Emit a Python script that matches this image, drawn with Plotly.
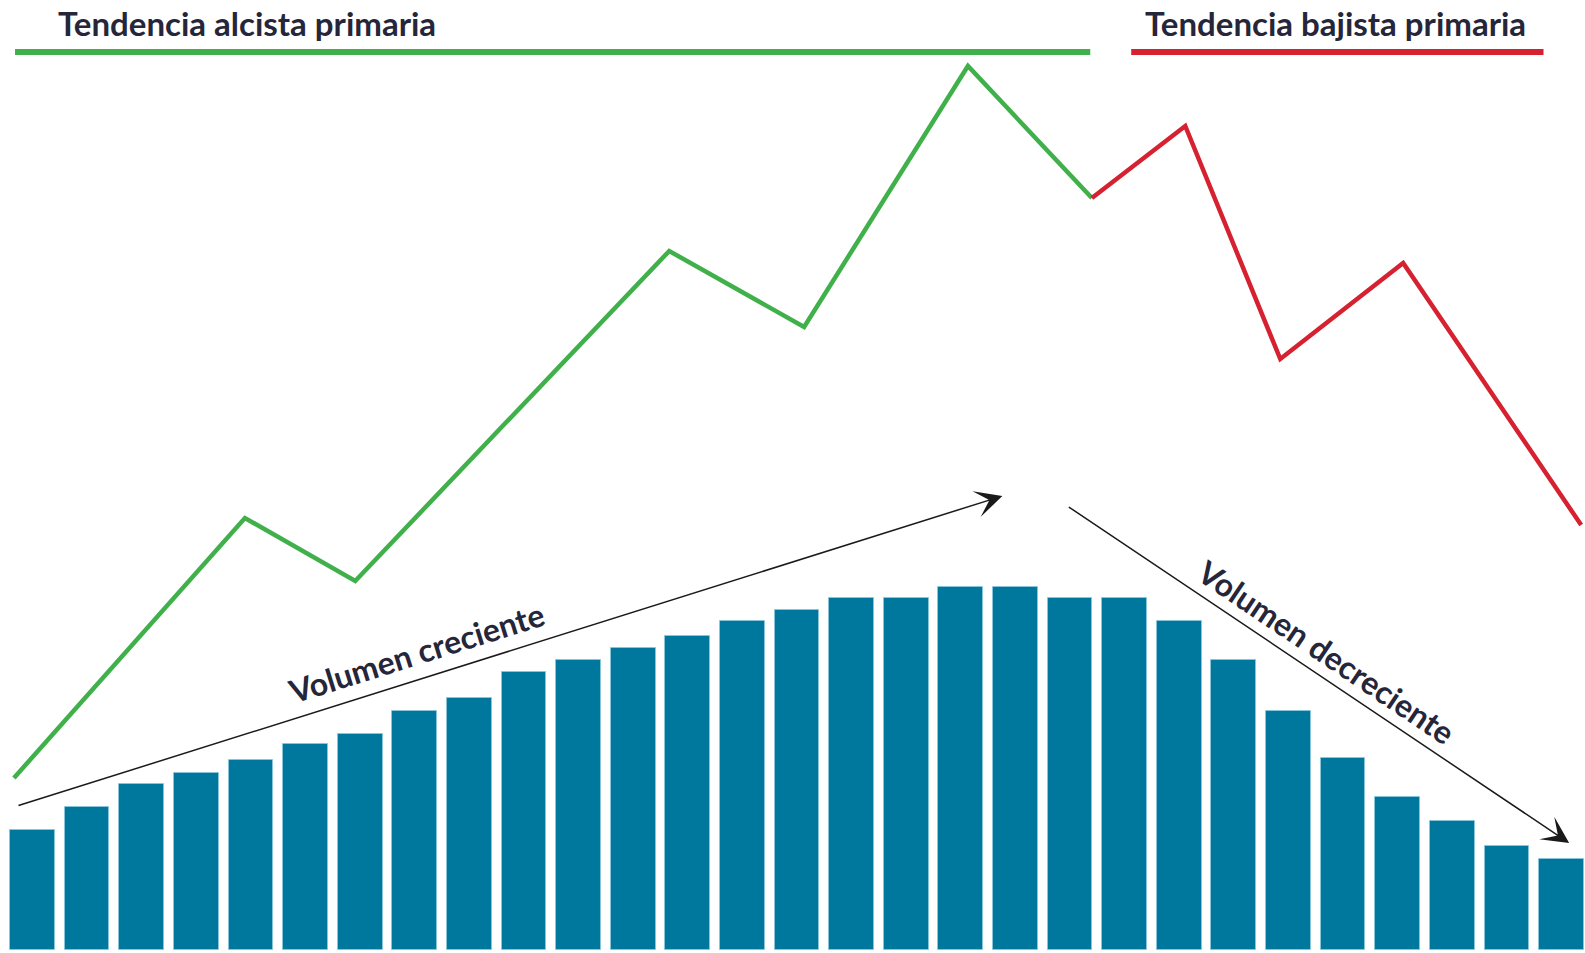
import plotly.graph_objects as go

# ---- data ----
bar_index = list(range(29))
volume = [120, 143, 166, 177, 190, 206, 216, 239, 252, 278, 290, 302, 314, 329, 340,
          352, 352, 363, 363, 352, 352, 329, 290, 239, 192, 153, 129, 104, 91]

# price path (time in bar-index units, price in arbitrary units)
up_t = [-0.34, 3.89, 5.91, 11.66, 14.13, 17.13, 19.40]
up_p = [172, 432, 369, 699, 623, 884, 752]
down_t = [19.40, 21.11, 22.85, 25.10, 28.36]
down_p = [752, 824, 591, 687, 425]

title_up = "Tendencia alcista primaria"
title_down = "Tendencia bajista primaria"
label_up = "Volumen creciente"
label_down = "Volumen decreciente"

BAR = "rgb(0,120,158)"
GREEN = "rgb(64,176,74)"
RED = "rgb(213,33,48)"
TXT = "#26263a"
FONT = "Lato"

fig = go.Figure()
fig.add_trace(go.Bar(x=bar_index, y=volume, marker=dict(color=BAR, line=dict(color="rgba(140,200,220,0.8)", width=1)),
                     width=0.82, hoverinfo="skip"))
fig.add_trace(go.Scatter(x=up_t, y=up_p, mode="lines", line=dict(color=GREEN, width=4.5), hoverinfo="skip"))
fig.add_trace(go.Scatter(x=down_t, y=down_p, mode="lines", line=dict(color=RED, width=4.5), hoverinfo="skip"))

# trend header bars
fig.add_shape(type="line", x0=-0.32, x1=19.37, y0=898, y1=898, line=dict(color=GREEN, width=6))
fig.add_shape(type="line", x0=20.12, x1=27.67, y0=898, y1=898, line=dict(color=RED, width=6))

ann = []
ann.append(dict(x=3.93, y=927, text=title_up, showarrow=False, xanchor="center", yanchor="middle",
                font=dict(family=FONT, size=33, color=TXT, weight="bold")))
ann.append(dict(x=23.86, y=927, text=title_down, showarrow=False, xanchor="center", yanchor="middle",
                font=dict(family=FONT, size=33, color=TXT, weight="bold")))
# arrows
ann.append(dict(x=17.76, y=454, ax=-0.284, ay=144, axref="x", ayref="y", xref="x", yref="y",
                text="", showarrow=True, arrowhead=3, arrowsize=3, arrowwidth=1.5, arrowcolor="#1a1a1a"))
ann.append(dict(x=28.14, y=107, ax=18.95, ay=444, axref="x", ayref="y", xref="x", yref="y",
                text="", showarrow=True, arrowhead=3, arrowsize=3, arrowwidth=1.5, arrowcolor="#1a1a1a"))
ann.append(dict(x=7.02, y=298, text=label_up, showarrow=False, textangle=-17.4,
                font=dict(family=FONT, size=32, color=TXT, weight="bold")))
ann.append(dict(x=23.69, y=299, text=label_down, showarrow=False, textangle=33.9,
                font=dict(family=FONT, size=32, color=TXT, weight="bold")))

fig.update_layout(
    width=1585, height=953,
    margin=dict(l=0, r=0, t=0, b=0),
    paper_bgcolor="white", plot_bgcolor="white",
    showlegend=False, bargap=0,
    annotations=ann,
    xaxis=dict(range=[-0.595, 28.43], visible=False, fixedrange=True),
    yaxis=dict(range=[-3, 950], visible=False, fixedrange=True),
)
fig.write_html("out.html", config={"displayModeBar": False},
               post_script="document.body.style.margin='0';document.body.style.overflow='hidden';")
